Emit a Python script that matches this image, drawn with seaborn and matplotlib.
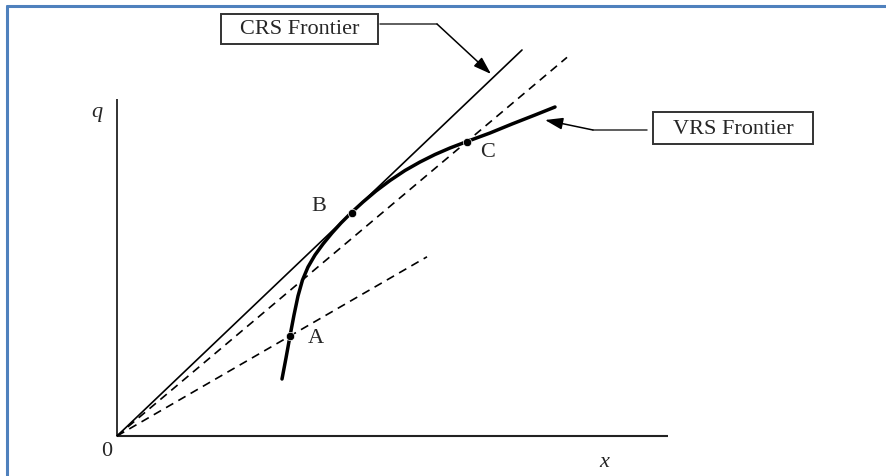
import matplotlib
matplotlib.use("Agg")
import matplotlib.pyplot as plt
from matplotlib.lines import Line2D
from matplotlib.patches import Rectangle
import pandas as pd
import seaborn as sns

sns.set_theme(style="white")
plt.rcParams["font.family"] = ["Liberation Serif", "DejaVu Serif"]

# VRS frontier (input x, output q)
vrs_x = [3.30, 3.38, 3.46, 3.54, 3.62, 3.71, 3.82, 3.96, 4.12, 4.30, 4.48, 4.69,
         4.92, 5.18, 5.46, 5.76, 6.06, 6.36, 6.66, 7.00, 7.46, 7.90, 8.36, 8.76]
vrs_q = [1.14, 1.56, 2.00, 2.42, 2.80, 3.12, 3.38, 3.62, 3.84, 4.06, 4.26, 4.47,
         4.68, 4.90, 5.11, 5.31, 5.48, 5.63, 5.76, 5.89, 6.06, 6.24, 6.42, 6.58]

# Named firms on the VRS frontier
firm_names = ["A", "B", "C"]
firm_x = [3.46, 4.69, 7.00]
firm_q = [2.00, 4.47, 5.89]

# Ray end points: CRS frontier (through B) and the dashed rays through A and C
crs_end_x = 8.10
ray_a_end_x = 6.20
ray_c_end_x = 9.00

axis_x_max = 11.02
axis_q_max = 6.74

fig = plt.figure(figsize=(8.86, 4.77), dpi=100)
ax = fig.add_axes([0, 0, 1, 1])

# axes
ax.plot([0, axis_x_max], [0, 0], color="#222222", lw=1.5, solid_capstyle="butt")
ax.plot([0, 0], [0, axis_q_max], color="#222222", lw=1.3, solid_capstyle="butt")

# CRS frontier through B
crs_slope = firm_q[1] / firm_x[1]
ax.plot([0, crs_end_x], [0, crs_slope * crs_end_x], color="black", lw=1.2)

# dashed rays through A and C
for idx, end_x in [(0, ray_a_end_x), (2, ray_c_end_x)]:
    s = firm_q[idx] / firm_x[idx]
    ax.plot([0, end_x], [0, s * end_x], color="black", lw=1.2, dashes=(5, 3.5))

# VRS frontier
vrs = pd.DataFrame({"x": vrs_x, "q": vrs_q})
sns.lineplot(data=vrs, x="x", y="q", sort=False, color="black", lw=2.5, ax=ax)

# firms
firms = pd.DataFrame({"name": firm_names, "x": firm_x, "q": firm_q})
sns.scatterplot(data=firms, x="x", y="q", color="black", s=36, zorder=5, ax=ax, legend=False)
label_offsets = {"A": (0.52, -0.04), "B": (-0.66, 0.14), "C": (0.42, -0.20)}
for n, x, q in zip(firm_names, firm_x, firm_q):
    dx, dy = label_offsets[n]
    ax.text(x + dx, q + dy, n, fontsize=16, ha="center", va="center")

# axis labels
ax.text(-0.2, -0.30, "0", fontsize=16, ha="center", va="center")
ax.text(9.74, -0.52, "x", fontsize=16, ha="center", va="center", style="italic")
ax.text(-0.40, 6.48, "q", fontsize=16, ha="center", va="center", style="italic")

# frontier call-outs
arrow = dict(arrowstyle="-|>,head_length=0.9,head_width=0.3",
             color="black", lw=1.1, shrinkA=0, shrinkB=0)

ax.add_patch(Rectangle((2.08, 7.84), 3.14, 0.60, fc="white", ec="#333333", lw=1.4, zorder=4))
ax.text(3.65, 8.14, "CRS Frontier", fontsize=16, ha="center", va="center", zorder=5)
ax.plot([5.26, 6.40], [8.24, 8.24], color="#333333", lw=1.1)
ax.annotate("", xy=(7.48, 7.24), xytext=(6.40, 8.24), arrowprops=arrow)

ax.add_patch(Rectangle((10.72, 5.84), 3.20, 0.64, fc="white", ec="#333333", lw=1.4, zorder=4))
ax.text(12.32, 6.16, "VRS Frontier", fontsize=16, ha="center", va="center", zorder=5)
ax.plot([9.52, 10.60], [6.12, 6.12], color="#333333", lw=1.1)
ax.annotate("", xy=(8.56, 6.32), xytext=(9.52, 6.12), arrowprops=arrow)

ax.set_xlim(-2.34, 15.38)
ax.set_ylim(-0.8, 8.74)
ax.axis("off")

# page frame
fig.add_artist(Line2D([7 / 886, 7 / 886], [0, 1 - 7 / 477], transform=fig.transFigure,
                      color="#4f81bd", lw=2.2))
fig.add_artist(Line2D([7 / 886, 1], [1 - 7 / 477, 1 - 7 / 477], transform=fig.transFigure,
                      color="#4f81bd", lw=2.2))

fig.savefig("out.png", dpi=100)
